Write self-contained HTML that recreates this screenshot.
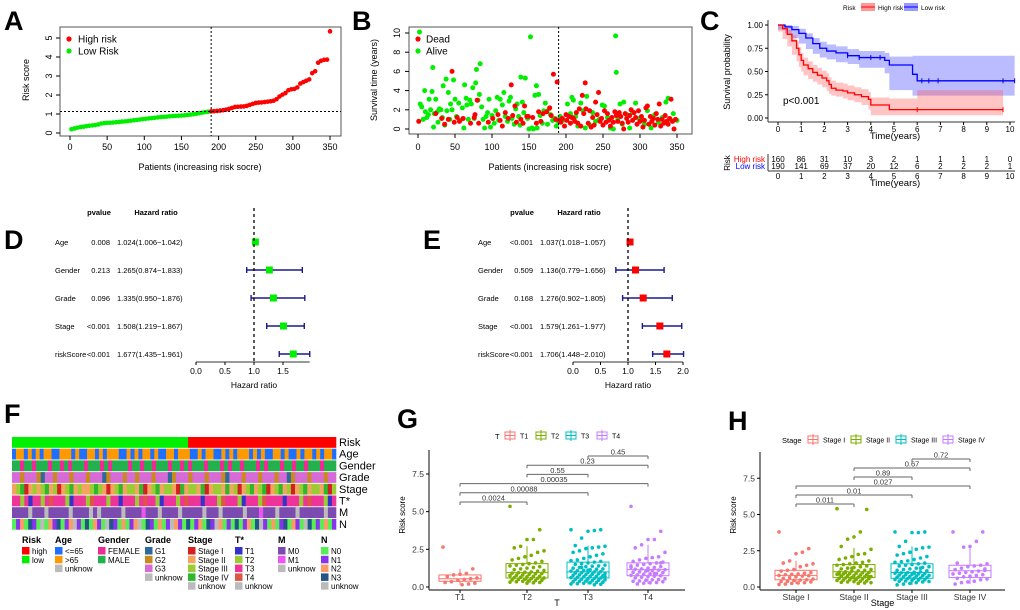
<!DOCTYPE html>
<html><head><meta charset="utf-8"><style>
html,body{margin:0;padding:0;background:#fff;}
svg{display:block;font-family:"Liberation Sans",Arial,sans-serif;}
</style></head><body>
<svg id="fig" width="1020" height="610" viewBox="0 0 1020 610" xmlns="http://www.w3.org/2000/svg">
<g font-weight="bold" font-size="27" fill="#000">
<text x="4" y="30">A</text>
<text x="352" y="30">B</text>
<text x="700" y="30">C</text>
<text x="4" y="249">D</text>
<text x="423" y="249">E</text>
<text x="4" y="423">F</text>
<text x="397" y="428">G</text>
<text x="728" y="430">H</text>
</g>
</svg>
<script>
// ---------- DATA ----------
const riskScore=[0.20,0.24,0.28,0.31,0.33,0.36,0.38,0.40,0.42,0.45,0.50,0.52,0.53,0.54,0.55,0.57,0.58,0.60,0.61,0.63,0.65,0.67,0.69,0.71,0.73,0.75,0.77,0.78,0.80,0.82,0.84,0.85,0.86,0.88,0.89,0.90,0.91,0.92,0.93,0.95,0.97,0.99,1.01,1.04,1.07,1.10,1.12,
1.14,1.15,1.16,1.18,1.20,1.23,1.27,1.32,1.37,1.38,1.39,1.40,1.43,1.48,1.53,1.58,1.60,1.61,1.63,1.65,1.67,1.70,1.78,1.92,2.02,2.10,2.25,2.30,2.32,2.40,2.60,2.68,2.75,2.82,3.15,3.25,3.70,3.80,3.85,3.86,5.35];
const riskCutoff=1.13;
const cutoffPatient=190;
const xTicksA=[0,50,100,150,200,250,300,350];
const yTicksA=[0,1,2,3,4,5];

const alivePatient=[2,3,5,7,9,10,12,14,15,17,19,20,21,22,24,26,27,29,31,33,34,36,38,39,41,43,44,46,48,50,52,55,57,60,62,63,65,66,68,70,72,74,76,78,79,81,83,84,86,88,90,92,94,96,98,100,103,105,107,109,111,114,116,118,121,123,125,127,130,132,134,136,138,139,141,143,145,148,150,152,154,156,158,160,161,163,165,168,170,172,175,177,179,182,185,187,189,
192,196,202,206,208,210,213,216,220,223,226,228,232,236,240,245,249,252,256,260,264,267,268,270,273,276,278,282,286,290,294,298,302,306,310,315,320,325,330,335,338,341,345,350];
const aliveTime=[10.1,2.6,2.3,1.0,4.0,1.8,1.2,1.5,3.1,2.0,3.9,6.4,0.2,1.6,3.1,1.8,0.7,2.1,2.0,1.2,4.5,0.4,5.2,1.9,3.8,1.0,2.6,2.0,5.1,3.1,1.3,2.7,0.9,2.2,0.1,4.6,3.2,2.5,1.0,3.0,2.6,4.3,1.1,4.8,6.2,3.0,3.6,6.8,2.3,1.0,0.1,1.3,1.7,3.1,0.2,1.4,0.6,1.9,3.3,0.9,3.1,2.5,3.8,1.3,0.8,2.9,3.3,1.1,0.5,2.1,2.6,1.3,0.4,5.4,2.8,1.7,5.3,1.1,0.0,9.6,0.1,0.0,3.5,4.5,0.1,3.6,1.4,0.6,1.9,2.7,0.5,2.1,1.5,0.9,1.1,0.3,0.8,
1.3,0.9,2.6,1.6,3.3,3.0,1.3,0.3,2.7,1.9,0.1,3.4,0.4,1.7,0.8,1.0,2.5,2.4,1.2,0.1,0.0,9.7,5.9,1.0,2.6,0.5,2.8,1.5,0.1,1.7,2.7,1.1,0.9,0.5,1.9,0.1,1.5,0.7,1.2,2.8,3.2,1.0,1.6,0.9];
const deadPatient=[1,24,32,36,41,46,49,53,56,61,71,76,77,80,82,95,101,108,111,114,118,122,126,128,131,133,139,142,144,147,149,155,160,163,166,169,174,178,180,183,186,188,
191,193,195,198,200,201,204,206,208,210,212,214,216,218,220,222,224,226,227,230,232,234,236,238,240,242,244,246,248,250,252,254,256,258,260,262,264,266,268,270,272,274,276,278,280,282,284,286,288,290,292,294,296,298,300,302,304,306,308,310,312,314,316,318,320,322,324,326,328,330,332,334,336,338,340,342,344,346,348];
const deadTime=[0.8,1.6,1.1,0.5,1.0,6.0,0.7,1.2,0.8,1.1,0.6,1.2,1.5,3.0,0.6,0.7,1.1,1.5,0.9,0.3,1.7,1.1,4.6,1.4,2.4,0.7,1.0,0.6,2.4,1.3,1.3,1.2,0.6,1.8,0.8,1.6,1.8,2.2,1.4,5.7,1.0,4.9,
0.9,0.7,1.1,0.3,1.5,0.9,1.3,0.6,1.2,1.1,0.8,1.7,0.6,2.1,0.3,3.5,1.6,4.8,2.1,0.6,1.9,0.2,1.2,0.4,2.8,1.5,3.8,0.8,1.1,0.4,1.9,0.7,1.6,0.9,0.3,1.2,0.7,1.8,1.4,0.8,1.7,1.3,0.6,0.0,1.6,1.1,0.7,1.4,2.0,0.9,1.7,1.2,0.5,1.9,0.8,1.3,0.2,0.9,2.2,2.4,0.5,1.3,0.8,1.1,0.4,1.6,1.0,2.6,0.3,1.0,0.6,1.4,0.8,0.5,1.1,3.1,0.8,0.0,1.0];
const yTicksB=[0,2,4,6,8,10];

const hiTime=[0,0.2,0.4,0.6,0.8,0.9,1.0,1.1,1.3,1.5,1.7,1.9,2.1,2.2,2.3,2.5,2.8,3.0,3.3,3.6,3.9,4.0,4.8,6.0,9.7];
const hiSurv=[1,0.96,0.9,0.83,0.75,0.68,0.62,0.57,0.53,0.49,0.46,0.43,0.40,0.36,0.32,0.30,0.29,0.27,0.25,0.23,0.20,0.14,0.09,0.09,0.09];
const hiUpper=[1,0.99,0.95,0.89,0.82,0.76,0.70,0.65,0.61,0.57,0.54,0.51,0.48,0.44,0.40,0.38,0.37,0.35,0.33,0.31,0.28,0.22,0.21,0.30,0.30];
const hiLower=[1,0.93,0.85,0.77,0.68,0.61,0.55,0.50,0.46,0.42,0.39,0.36,0.33,0.29,0.26,0.24,0.23,0.21,0.19,0.17,0.14,0.09,0.03,0.03,0.03];
const loTime=[0,0.3,0.6,0.9,1.2,1.5,1.8,2.1,2.5,3.0,3.5,4.6,4.8,5.8,6.0,10.2];
const loSurv=[1,0.98,0.95,0.91,0.86,0.80,0.75,0.72,0.70,0.67,0.65,0.62,0.57,0.47,0.40,0.40];
const loUpper=[1,1,0.99,0.96,0.91,0.86,0.82,0.79,0.77,0.74,0.72,0.70,0.66,0.67,0.67,0.67];
const loLower=[1,0.95,0.91,0.86,0.80,0.74,0.69,0.65,0.63,0.60,0.58,0.54,0.48,0.30,0.24,0.24];
const hiCensor=[6.0,9.7];
const loCensor=[3.0,3.5,4.0,4.4,6.2,6.5,6.9,9.7,10.2];
const yTicksC=[0,0.25,0.5,0.75,1];
const xTicksC=[0,1,2,3,4,5,6,7,8,9,10];
const hiAtRisk=[160,86,31,10,3,2,1,1,1,1,0];
const loAtRisk=[190,141,69,37,20,12,6,2,2,2,1];

const forestVars=["Age","Gender","Grade","Stage","riskScore"];
const uniP=["0.008","0.213","0.096","<0.001","<0.001"];
const uniHR=[1.024,1.265,1.335,1.508,1.677];
const uniLo=[1.006,0.874,0.950,1.219,1.435];
const uniHi=[1.042,1.833,1.876,1.867,1.961];
const multiP=["<0.001","0.509","0.168","<0.001","<0.001"];
const multiHR=[1.037,1.136,1.276,1.579,1.706];
const multiLo=[1.018,0.779,0.902,1.261,1.448];
const multiHi=[1.057,1.656,1.805,1.977,2.010];
const hrTicksD=[0,0.5,1,1.5];
const hrTicksE=[0,0.5,1,1.5,2];

const heatRows=["Risk","Age","Gender","Grade","Stage","T*","M","N"];
const heatRisk="llllllllllllllllllllllllllllllllllllllllllllhhhhhhhhhhhhhhhhhhhhhhhhhhhhhhhhhhhhh";
const heatAge="abbabababbaabbbabaabbababbbaabababbabaabbabbbaababbaabababbbababaabbabaababbababba";
const heatGender="mmfmmfmmmfmmfmfmmmfmmmfmfmmmmfmmfmmfmmmfmmfmfmmmfmmmfmfmmfmmmfmfmmmfmmfmmfmmmfmmm";
const heatGrade="3323332133233323332333123332332333233312333233323332133323332333233123332333233";
const heatStage="2341232342312342322343212342332412342332142332412332423123423412342312342332413";
const heatT="3323133234333213332433323313332343321333234333133324333213332433331333234333213";
const heatM="0000u000u00000u0000u0u00000u00001000u0000u00000u000u00000u0001000u0000u000000u00";
const heatN="0120310u0213012u1030210u3102012u0310201u2103012031u2010301203u1020130210u3010201";
const legendGroups=["Risk","Age","Gender","Grade","Stage","T*","M","N"];
const legendItems=[["high","low"],["<=65",">65","unknow"],["FEMALE","MALE"],["G1","G2","G3","unknow"],["Stage I","Stage II","Stage III","Stage IV","unknow"],["T1","T2","T3","T4","unknow"],["M0","M1","unknow"],["N0","N1","N2","N3","unknow"]];

const tGroups=["T1","T2","T3","T4"];
const tQ1=[0.38,0.6,0.6,0.75], tMed=[0.55,0.95,1.0,1.15], tQ3=[0.8,1.55,1.65,1.6], tLo=[0.15,0.25,0.15,0.2], tHi=[1.2,2.7,2.75,2.8];
const tPoints=[
[2.65,1.2,0.9,0.85,0.8,0.7,0.6,0.55,0.5,0.45,0.35,0.3,0.25,0.2,0.15],
[5.35,3.8,3.15,3.15,2.7,2.6,2.4,2.3,2.1,2.0,1.9,1.8,1.7,1.6,1.55,1.5,1.45,1.4,1.35,1.3,1.25,1.2,1.15,1.1,1.05,1.0,0.98,0.95,0.92,0.9,0.88,0.85,0.8,0.78,0.75,0.72,0.7,0.68,0.65,0.62,0.6,0.58,0.55,0.52,0.5,0.48,0.45,0.42,0.4,0.38,0.35,0.32,0.3,0.28,0.25],
[3.8,3.8,3.75,3.7,3.25,2.75,2.7,2.65,2.6,2.55,2.4,2.3,2.2,2.1,2.0,1.9,1.8,1.75,1.7,1.65,1.6,1.55,1.5,1.45,1.4,1.38,1.35,1.3,1.25,1.2,1.18,1.15,1.1,1.08,1.05,1.02,1.0,0.98,0.95,0.92,0.9,0.88,0.85,0.82,0.8,0.78,0.75,0.72,0.7,0.68,0.65,0.62,0.6,0.58,0.55,0.52,0.5,0.48,0.45,0.42,0.4,0.38,0.35,0.32,0.3,0.28,0.25,0.22,0.2,0.18,0.15,1.12,1.3,0.95,0.7],
[5.35,3.7,3.15,3.15,2.8,2.6,2.3,2.0,1.95,1.9,1.8,1.7,1.65,1.6,1.55,1.5,1.45,1.4,1.35,1.3,1.25,1.2,1.18,1.15,1.12,1.1,1.05,1.0,0.98,0.95,0.9,0.88,0.85,0.8,0.78,0.75,0.72,0.7,0.65,0.6,0.55,0.5,0.48,0.45,0.4,0.38,0.35,0.3,0.28,0.25,0.2,1.3,1.6,0.9,1.1]];
const tPairs=[[0,1],[0,2],[0,3],[1,2],[1,3],[2,3]];
const tPairP=["0.0024","0.00088","0.00035","0.55","0.23","0.45"];
const sGroups=["Stage I","Stage II","Stage III","Stage IV"];
const sQ1=[0.5,0.65,0.6,0.65], sMed=[0.8,1.05,1.0,1.12], sQ3=[1.15,1.55,1.6,1.5], sLo=[0.2,0.25,0.15,0.2], sHi=[1.8,2.7,2.8,2.8];
const sPoints=[
[3.8,2.65,2.4,2.3,1.8,1.65,1.6,1.5,1.4,1.2,1.15,1.1,1.0,0.95,0.9,0.88,0.85,0.8,0.78,0.75,0.7,0.65,0.6,0.55,0.5,0.48,0.45,0.4,0.38,0.35,0.3,0.28,0.25,0.2,0.18],
[5.4,5.35,3.8,3.45,3.3,2.8,2.6,2.3,2.25,2.1,2.0,1.9,1.8,1.7,1.65,1.6,1.55,1.5,1.45,1.4,1.35,1.3,1.25,1.2,1.15,1.12,1.1,1.05,1.02,1.0,0.98,0.95,0.92,0.9,0.88,0.85,0.82,0.8,0.78,0.75,0.72,0.7,0.68,0.65,0.62,0.6,0.58,0.55,0.52,0.5,0.48,0.45,0.42,0.4,0.38,0.35,0.32,0.3,0.28,0.25,1.3,1.0,0.9,0.7],
[3.8,3.8,3.75,3.75,3.15,2.8,2.75,2.7,2.6,2.4,2.3,2.2,2.1,2.0,1.9,1.8,1.75,1.7,1.65,1.6,1.55,1.5,1.45,1.4,1.35,1.3,1.25,1.2,1.15,1.1,1.05,1.02,1.0,0.98,0.95,0.92,0.9,0.88,0.85,0.82,0.8,0.78,0.75,0.72,0.7,0.68,0.65,0.62,0.6,0.58,0.55,0.52,0.5,0.48,0.45,0.42,0.4,0.38,0.35,0.3,0.25,0.2,0.15,1.12,1.3,0.95],
[3.8,3.8,3.15,2.8,2.75,1.65,1.6,1.5,1.45,1.4,1.3,1.2,1.15,1.1,1.05,1.0,0.95,0.9,0.85,0.8,0.75,0.7,0.6,0.55,0.5,0.4,0.35,0.3,0.2,1.25]];
const sPairP=["0.011","0.01","0.027","0.89","0.67","0.72"];
const boxTicks=[0,2.5,5,7.5];

// ---------- HELPERS ----------
const NS="http://www.w3.org/2000/svg";
const svg=document.getElementById('fig');
function el(tag,attrs,parent){const e=document.createElementNS(NS,tag);for(const k in attrs)e.setAttribute(k,attrs[k]);(parent||svg).appendChild(e);return e;}
function txt(x,y,s,name,o){o=o||{};const t=el('text',{x:x,y:y,'font-size':o.fs||9,'text-anchor':o.a||'start',fill:o.fill||'#000','font-weight':o.fw||'normal'});
if(o.rot)t.setAttribute('transform','rotate('+o.rot+' '+x+' '+y+')');
t.textContent=s;


return t;}
function ln(x1,y1,x2,y2,name,o){o=o||{};const l=el('line',{x1:x1,y1:y1,x2:x2,y2:y2,stroke:o.c||'#000','stroke-width':o.w||1});
if(o.d)l.setAttribute('stroke-dasharray',o.d);


return l;}

// ---------- PANEL A ----------
const xA=p=>70+p*0.7429, yA=v=>133-v*19;
const boxA=el('rect',{x:60,y:27,width:281,height:109,fill:'none',stroke:'#555','stroke-width':1});


xTicksA.forEach(t=>{ln(xA(t),136,xA(t),140,'x-tick-a');txt(xA(t),150,String(t),'x-tick-label-a',{a:'middle',fs:9});});
yTicksA.forEach(t=>{ln(56,yA(t),60,yA(t),'y-tick-a');txt(52,yA(t),String(t),'y-tick-label-a',{a:'middle',fs:9,rot:-90});});
txt(200,170,'Patients (increasing risk socre)','x-axis-title-a',{a:'middle',fs:9});
txt(29,80,'Risk score','y-axis-title-a',{a:'middle',fs:9,rot:-90});
riskScore.forEach((v,i)=>{const c=el('circle',{cx:xA(i*4+2),cy:yA(v),r:2.3,fill:v>=riskCutoff?'#ff0000':'#00ee00'});

});
ln(xA(cutoffPatient),27,xA(cutoffPatient),136,'cutoff-vertical-a',{d:'2,2'});
ln(60,yA(riskCutoff),341,yA(riskCutoff),'cutoff-horizontal-a',{d:'2,2'});
[['High risk','#ff0000',39],['Low Risk','#00ee00',51]].forEach(L=>{const c=el('circle',{cx:69,cy:L[2],r:2.6,fill:L[1]});


txt(78,L[2]+3.5,L[0],'legend-label-a',{fs:10});});

// ---------- PANEL B ----------
const xB=p=>418+p*0.74, yB=t=>129-t*9.6;
const boxB=el('rect',{x:409,y:27,width:283,height:107,fill:'none',stroke:'#555','stroke-width':1});


xTicksA.forEach(t=>{ln(xB(t),134,xB(t),138,'x-tick-b');txt(xB(t),150,String(t),'x-tick-label-b',{a:'middle',fs:9});});
yTicksB.forEach(t=>{ln(405,yB(t),409,yB(t),'y-tick-b');txt(400,yB(t),String(t),'y-tick-label-b',{a:'middle',fs:9,rot:-90});});
txt(550,170,'Patients (increasing risk socre)','x-axis-title-b',{a:'middle',fs:9});
txt(377,80,'Survival time (years)','y-axis-title-b',{a:'middle',fs:9,rot:-90});
alivePatient.forEach((p,i)=>{const c=el('circle',{cx:xB(p),cy:yB(aliveTime[i]),r:2.5,fill:'#00ee00'});

});
deadPatient.forEach((p,i)=>{const c=el('circle',{cx:xB(p),cy:yB(deadTime[i]),r:2.5,fill:'#ff0000'});

});
ln(xB(cutoffPatient),27,xB(cutoffPatient),134,'cutoff-vertical-b',{d:'2,2'});
[['Dead','#ff0000',39],['Alive','#00ee00',51]].forEach(L=>{const c=el('circle',{cx:418,cy:L[2],r:2.6,fill:L[1]});


txt(426,L[2]+3.5,L[0],'legend-label-b',{fs:10});});

// ---------- PANEL C ----------
const xC=t=>778+t*23.2, yC=s=>118-s*93;
function stepPath(T,S){let d='M'+xC(T[0])+','+yC(S[0]);for(let i=1;i<T.length;i++){d+='H'+xC(T[i])+'V'+yC(S[i]);}return d;}
function bandPath(T,U,L){let d='M'+xC(T[0])+','+yC(U[0]);for(let i=1;i<T.length;i++){d+='H'+xC(T[i])+'V'+yC(U[i]);}
for(let i=T.length-1;i>0;i--){d+='V'+yC(L[i])+'H'+xC(T[i-1]);}d+='V'+yC(L[0])+'Z';return d;}
const bandLo=el('path',{d:bandPath(loTime,loUpper,loLower),fill:'#5555ff','fill-opacity':0.4,stroke:'none'});


const bandHi=el('path',{d:bandPath(hiTime,hiUpper,hiLower),fill:'#ff5555','fill-opacity':0.35,stroke:'none'});


const curveLo=el('path',{d:stepPath(loTime,loSurv),fill:'none',stroke:'#0000ff','stroke-width':1.3});


const curveHi=el('path',{d:stepPath(hiTime,hiSurv),fill:'none',stroke:'#ff0000','stroke-width':1.3});


function survAt(T,S,t){let s=S[0];for(let i=0;i<T.length;i++){if(T[i]<=t)s=S[i];}return s;}
loCensor.forEach(t=>{const y=yC(survAt(loTime,loSurv,t));ln(xC(t),y-2.5,xC(t),y+2.5,'censor-mark-low',{c:'#0000ff'});});
hiCensor.forEach(t=>{const y=yC(survAt(hiTime,hiSurv,t));ln(xC(t),y-2.5,xC(t),y+2.5,'censor-mark-high',{c:'#ff0000'});});
ln(768,20,768,122,'y-axis-c',{c:'#333'});
ln(768,122,1015,122,'x-axis-c',{c:'#333'});
yTicksC.forEach(t=>{ln(765,yC(t),768,yC(t),'y-tick-c');txt(763,yC(t)+3,t.toFixed(2),'y-tick-label-c',{a:'end',fs:8});});
xTicksC.forEach(t=>{ln(xC(t),122,xC(t),125,'x-tick-c');txt(xC(t),132,String(t),'x-tick-label-c',{a:'middle',fs:8});});
txt(895,139,'Time(years)','x-axis-title-c',{a:'middle',fs:9.5});
txt(730,72,'Survival probability','y-axis-title-c',{a:'middle',fs:9,rot:-90});
txt(783,104,'p<0.001','p-value-c',{fs:10});
txt(843,10,'Risk','legend-title-c',{fs:6.5});
[['High risk','#ff0000','#ff9999',861],['Low risk','#0000ff','#9999ff',904]].forEach(L=>{
const r=el('rect',{x:L[3],y:3,width:14,height:8,fill:L[2]});


ln(L[3],7,L[3]+14,7,'legend-key-line-c',{c:L[1]});
txt(L[3]+17,10,L[0],'legend-label-c',{fs:6.5});});
ln(768,154,768,171,'risk-table-axis',{c:'#333'});
ln(768,171,1015,171,'risk-table-x-axis',{c:'#333'});
txt(730,163,'Risk','risk-table-title',{a:'middle',fs:8,rot:-90});
txt(765,162,'High risk','risk-table-high-label',{a:'end',fs:8,fill:'#ff0000'});
txt(765,169,'Low risk','risk-table-low-label',{a:'end',fs:8,fill:'#0000ff'});
xTicksC.forEach((t,i)=>{txt(xC(t),162,String(hiAtRisk[i]),'at-risk-high',{a:'middle',fs:8});
txt(xC(t),169,String(loAtRisk[i]),'at-risk-low',{a:'middle',fs:8});
txt(xC(t),179,String(t),'risk-table-x-tick-label',{a:'middle',fs:8});});
txt(895,186,'Time(years)','risk-table-x-title',{a:'middle',fs:9.5});

// ---------- PANELS D/E ----------
const rowY=[242,270,298,326,354];
function forest(px,P,HR,LO,HI,xs,ticks,axisEnd,color,tag){
txt(px+44,215,'pvalue','pvalue-header-'+tag,{a:'middle',fs:7.5,fw:'bold'});
txt(px+101,215,'Hazard ratio','hr-header-'+tag,{a:'middle',fs:7.5,fw:'bold'});
forestVars.forEach((v,i)=>{const y=rowY[i];
txt(px,y+3,v,'variable-label-'+tag,{fs:7.5});
txt(px+55,y+3,P[i],'pvalue-'+tag,{a:'end',fs:7.5});
txt(px+62,y+3,HR[i].toFixed(3)+'('+LO[i].toFixed(3)+'−'+HI[i].toFixed(3)+')','hr-text-'+tag,{fs:7.5});
ln(xs(LO[i]),y,xs(HI[i]),y,'ci-line-'+tag,{c:'#1a1a8c',w:1.4});
ln(xs(LO[i]),y-3,xs(LO[i]),y+3,'ci-cap-'+tag,{c:'#1a1a8c',w:1.4});
ln(xs(HI[i]),y-3,xs(HI[i]),y+3,'ci-cap-'+tag,{c:'#1a1a8c',w:1.4});
const s=el('rect',{x:xs(HR[i])-3.5,y:y-3.5,width:7,height:7,fill:color});

});
ln(xs(1),208,xs(1),362,'reference-line-'+tag,{d:'3,3',w:1.3});
ln(xs(0),362,xs(axisEnd),362,'x-axis-'+tag,{c:'#333'});
ticks.forEach(t=>{ln(xs(t),362,xs(t),365,'x-tick-'+tag);txt(xs(t),374,t.toFixed(1),'x-tick-label-'+tag,{a:'middle',fs:8.5});});
txt(xs(1),388,'Hazard ratio','x-axis-title-'+tag,{a:'middle',fs:8.5});}
forest(55,uniP,uniHR,uniLo,uniHi,h=>196+h*58,hrTicksD,1.96,'#00ee00','d');
forest(478,multiP,multiHR,multiLo,multiHi,h=>573+h*55,hrTicksE,2.0,'#ff0000','e');

// ---------- PANEL F ----------
const heatColors={
Risk:{h:'#ff0000',l:'#00ee00'},
Age:{a:'#1f6fff',b:'#ff9900',u:'#bbbbbb'},
Gender:{f:'#ee2b94',m:'#22b14c'},
Grade:{'1':'#2b6a99','2':'#c88a1e','3':'#d66bd6',u:'#bbbbbb'},
Stage:{'1':'#d42020','2':'#f4a460','3':'#9acd32','4':'#2db82d',u:'#bbbbbb'},
'T*':{'1':'#3333cc','2':'#99cc33','3':'#ee3399','4':'#dd5544',u:'#bbbbbb'},
M:{'0':'#7b4bb0','1':'#ee55ee',u:'#bbbbbb'},
N:{'0':'#55ee55','1':'#8833ee','2':'#ff9966','3':'#225588',u:'#bbbbbb'}};
const heatData=[heatRisk,heatAge,heatGender,heatGrade,heatStage,heatT,heatM,heatN];
heatRows.forEach((r,ri)=>{const s=heatData[ri],w=324/s.length,y=437+ri*11.7;
for(let j=0;j<s.length;j++){const c=el('rect',{x:12+j*w,y:y,width:w+0.3,height:10.8,fill:heatColors[r][s[j]]});

}
txt(339,y+9,r,'heatmap-row-label',{fs:11});});
const legX=[22,55,98,145,188,235,278,321];
const legCol=[['#ff0000','#00ee00'],['#1f6fff','#ff9900','#bbbbbb'],['#ee2b94','#22b14c'],['#2b6a99','#c88a1e','#d66bd6','#bbbbbb'],['#d42020','#f4a460','#9acd32','#2db82d','#bbbbbb'],['#3333cc','#99cc33','#ee3399','#dd5544','#bbbbbb'],['#7b4bb0','#ee55ee','#bbbbbb'],['#55ee55','#8833ee','#ff9966','#225588','#bbbbbb']];
legendGroups.forEach((g,gi)=>{txt(legX[gi],543,g,'heatmap-legend-title',{fs:9,fw:'bold'});
legendItems[gi].forEach((it,k)=>{const y=547+k*8.8;
const r=el('rect',{x:legX[gi],y:y,width:7.5,height:7.5,fill:legCol[gi][k]});


txt(legX[gi]+10,y+7,it,'heatmap-legend-label',{fs:8});});});

// ---------- PANELS G/H ----------
const boxColors=['#F8766D','#7CAE00','#00BFC4','#C77CFF'];
function boxplot(o){
const ys=v=>587-v*o.k;
ln(o.ax,o.top,o.ax,590,'y-axis-'+o.tag,{c:'#333',w:1.2});
ln(o.ax,590,o.right,590,'x-axis-'+o.tag,{c:'#333',w:1.2});
boxTicks.forEach(t=>{ln(o.ax-3,ys(t),o.ax,ys(t),'y-tick-'+o.tag);txt(o.ax-5,ys(t)+3,t.toFixed(1),'y-tick-label-'+o.tag,{a:'end',fs:8.5,fill:'#333'});});
txt(o.ax-24,515,'Risk score','y-axis-title-'+o.tag,{a:'middle',fs:8,rot:-90});
txt((o.ax+o.right)/2,606,o.title,'x-axis-title-'+o.tag,{a:'middle',fs:9});
o.groups.forEach((g,i)=>{const cx=o.cx[i],c=boxColors[i];
ln(cx,590,cx,593,'x-tick-'+o.tag);
txt(cx,600,g,'x-tick-label-'+o.tag,{a:'middle',fs:8.5,fill:'#333'});
ln(cx,ys(o.q3[i]),cx,ys(o.hi[i]),'whisker-'+o.tag,{c:c});
ln(cx,ys(o.q1[i]),cx,ys(o.lo[i]),'whisker-'+o.tag,{c:c});
const b=el('rect',{x:cx-21,y:ys(o.q3[i]),width:42,height:ys(o.q1[i])-ys(o.q3[i]),fill:'#fff',stroke:c,'stroke-width':1});


ln(cx-21,ys(o.med[i]),cx+21,ys(o.med[i]),'median-'+o.tag,{c:c});
o.pts[i].forEach((v,j)=>{const jx=((j*7919)%17-8)/8*17;
const p=el('circle',{cx:cx+jx,cy:ys(v),r:1.8,fill:c});

});});
tPairs.forEach((pr,k)=>{const y=o.by0-k*o.bstep,x1=o.cx[pr[0]],x2=o.cx[pr[1]];
ln(x1,y,x2,y,'comparison-bracket-'+o.tag,{c:'#666'});
ln(x1,y,x1,y+3,'comparison-bracket-end-'+o.tag,{c:'#666'});
ln(x2,y,x2,y+3,'comparison-bracket-end-'+o.tag,{c:'#666'});
txt((x1+x2)/2,y-1.5,o.pv[k],'comparison-pvalue-'+o.tag,{a:'middle',fs:7.5,fill:'#333'});});
txt(o.legX,o.legY+3,o.title,'legend-title-'+o.tag,{fs:7.5});
o.groups.forEach((g,i)=>{const lx=o.legKeys[i];
const r=el('rect',{x:lx,y:o.legY-4,width:10,height:7,fill:'#fff',stroke:boxColors[i]});


ln(lx,o.legY-0.5,lx+10,o.legY-0.5,'legend-key-median-'+o.tag,{c:boxColors[i]});
ln(lx+5,o.legY-6,lx+5,o.legY+5,'legend-key-whisker-'+o.tag,{c:boxColors[i]});
txt(lx+15,o.legY+2.5,g,'legend-label-'+o.tag,{fs:7});});}
boxplot({tag:'g',ax:429,top:450,right:685,k:15.07,cx:[460,527,588,648],groups:tGroups,q1:tQ1,med:tMed,q3:tQ3,lo:tLo,hi:tHi,pts:tPoints,pv:tPairP,by0:502,bstep:9.2,title:'T',legX:495,legY:436,legKeys:[505,536,566,597]});
boxplot({tag:'h',ax:760,top:452,right:1005,k:14.5,cx:[796,854,912,970],groups:sGroups,q1:sQ1,med:sMed,q3:sQ3,lo:sLo,hi:sHi,pts:sPoints,pv:sPairP,by0:504,bstep:9,title:'Stage',legX:782,legY:440,legKeys:[808,851,896,943]});
</script>
</body></html>
